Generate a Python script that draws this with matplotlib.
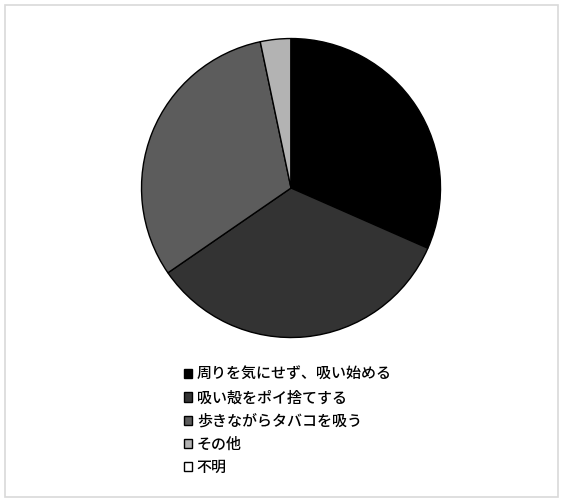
import matplotlib
matplotlib.use("Agg")
import matplotlib.pyplot as plt
from matplotlib.patches import Rectangle

plt.rcParams['font.family'] = ['Noto Sans CJK JP', 'DejaVu Sans']

# 迷惑行為の内訳 (%)
labels = ['周りを気にせず、吸い始める', '吸い殻をポイ捨てする', '歩きながらタバコを吸う', 'その他', '不明']
values = [31.6, 33.8, 31.3, 3.3, 0.0]
colors = ['#000000', '#333333', '#5c5c5c', '#b3b3b3', '#ffffff']

fig = plt.figure(figsize=(5.61, 4.99), dpi=100)

# 外枠
fig.patches.append(Rectangle((5 / 561, 2 / 499), 553 / 561, 492 / 499,
                             transform=fig.transFigure, fill=False,
                             edgecolor='#d9d9d9', linewidth=1.2))

ax = fig.add_axes([0.2496, 0.3206, 0.5383, 0.6052])
wedges, _ = ax.pie(values, colors=colors, startangle=90, counterclock=False,
                   radius=1.0, wedgeprops=dict(edgecolor='black', linewidth=1.0))
ax.set_xlim(-1.01, 1.01)
ax.set_ylim(-1.01, 1.01)
ax.set_aspect('equal')
ax.axis('off')

fig.legend(wedges, labels, loc='upper left', bbox_to_anchor=(184 / 561, 1 - 366 / 499),
           frameon=False, prop=dict(size=10.8, weight='medium'),
           handlelength=0.55, handleheight=0.55,
           handletextpad=0.3, labelspacing=0.42, borderpad=0, borderaxespad=0)

fig.savefig('out.png', dpi=100, facecolor='white')
